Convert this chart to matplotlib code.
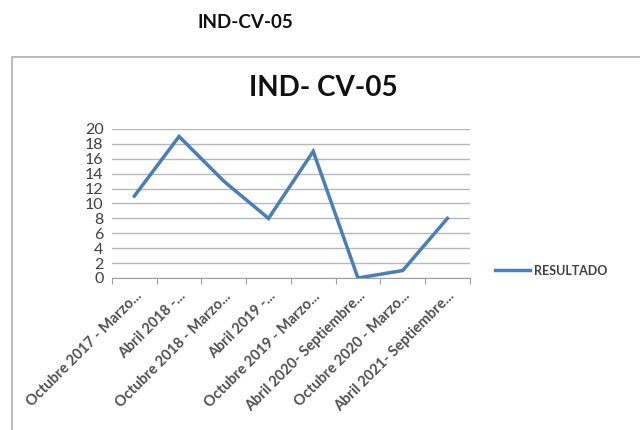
import matplotlib
matplotlib.use('Agg')
import matplotlib.pyplot as plt
from matplotlib.patches import Rectangle

# data
periodos = ['Octubre 2017 - Marzo...', 'Abril 2018 -...', 'Octubre 2018 - Marzo...',
            'Abril 2019 -...', 'Octubre 2019 - Marzo...', 'Abril 2020- Septiembre...',
            'Octubre 2020 - Marzo...', 'Abril 2021- Septiembre...']
resultado = [11, 19, 13, 8, 17, 0, 1, 8]
y_ticks = list(range(0, 21, 2))

plt.rcParams['font.family'] = ['Lato', 'DejaVu Sans']

fig = plt.figure(figsize=(6.4, 4.3), dpi=100)

# page title and chart frame
fig.text(0.384, 0.948, 'IND-CV-05', ha='center', va='center', fontsize=13.5,
         fontweight='bold', color='#111111')
fig.patches.append(Rectangle((12 / 640, -0.01), 0.99, 1 - 57 / 430 + 0.01,
                             transform=fig.transFigure, fill=False,
                             edgecolor='#b0b0b0', linewidth=1.2))
fig.text(0.505, 0.795, 'IND- CV-05', ha='center', va='center', fontsize=20,
         fontweight='bold', color='#111111')

ax = fig.add_axes([0.175, 0.3535, 0.559, 0.3465])
x = [i + 0.5 for i in range(len(resultado))]
ax.plot(x, resultado, color='#4a7ebb', linewidth=2.5, label='RESULTADO',
        solid_joinstyle='miter')

ax.set_xlim(0, len(resultado))
ax.set_ylim(0, 20)
ax.set_yticks(y_ticks)
ax.tick_params(axis='y', length=0, labelsize=11.5, colors='#404040', pad=6)
ax.yaxis.grid(True, color='#b8b8b8', linewidth=1)
ax.set_axisbelow(True)

ax.set_xticks(range(len(resultado) + 1))
ax.set_xticklabels([])
ax.set_xticks(x, minor=True)
ax.set_xticklabels(periodos, minor=True, rotation=45, ha='right',
                   rotation_mode='anchor', fontsize=10.5, fontweight='bold',
                   color='#505050')
ax.tick_params(axis='x', which='major', length=4, color='#a0a0a0', direction='out')
ax.tick_params(axis='x', which='minor', length=0, pad=8)

for s in ['top', 'right', 'left']:
    ax.spines[s].set_visible(False)
ax.spines['bottom'].set_color('#a0a0a0')

leg = ax.legend(loc='center left', bbox_to_anchor=(1.04, 0.05), frameon=False,
                fontsize=9, labelcolor='#404040', handlelength=2.8, handletextpad=0.3)
for t in leg.get_texts():
    t.set_fontweight('bold')

fig.savefig('out.png', dpi=100)
